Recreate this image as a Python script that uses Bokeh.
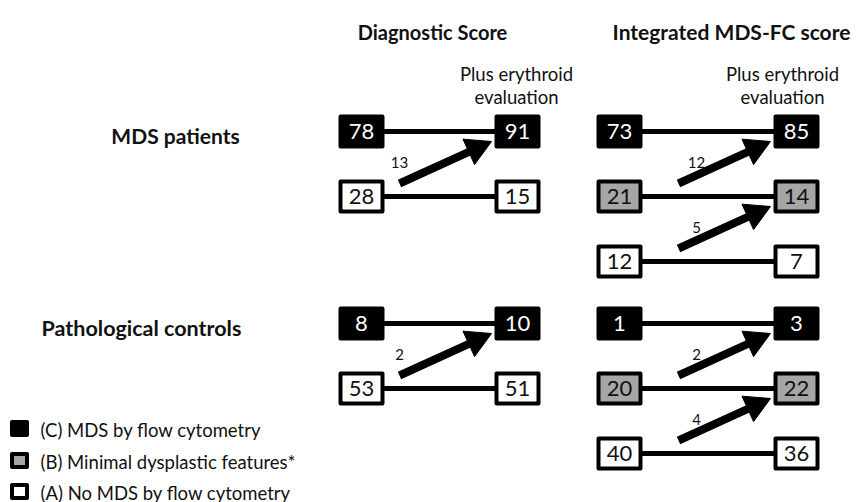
from bokeh.plotting import figure
from bokeh.models import Range1d
from bokeh.core.properties import value
from bokeh.embed import file_html
from bokeh.resources import INLINE

# ---------------- data ----------------
panel_titles = ["Diagnostic Score", "Integrated MDS-FC score"]
subtitle_lines = ["Plus erythroid", "evaluation"]
group_labels = ["MDS patients", "Pathological controls"]
legend_codes = ["C", "B", "A"]
legend_labels = ["(C) MDS by flow cytometry",
                 "(B) Minimal dysplastic features*",
                 "(A) No MDS by flow cytometry"]

diag_cats = ["C", "A"]
int_cats = ["C", "B", "A"]

diag_mds_before = [78, 28]
diag_mds_after = [91, 15]
diag_mds_moved = [13]

int_mds_before = [73, 21, 12]
int_mds_after = [85, 14, 7]
int_mds_moved = [12, 5]

diag_ctrl_before = [8, 53]
diag_ctrl_after = [10, 51]
diag_ctrl_moved = [2]

int_ctrl_before = [1, 20, 40]
int_ctrl_after = [3, 22, 36]
int_ctrl_moved = [2, 4]

# ---------------- layout / style ----------------
W, H = 856, 502
FONT = "Lato"
fill_of = {"C": "#000000", "B": "#a6a6a6", "A": "#ffffff"}
txt_of = {"C": "#ffffff", "B": "#111111", "A": "#111111"}

panel_left_x = [361, 619]
panel_right_x = [517, 796]
panel_title_x = [432, 731]
title_size = ["20px", "21px"]
subtitle_x = [516, 782]
label_dx = [0, 18]
group_top_y = [131, 323]
group_label_x = [175, 141]
group_size = ["21px", "21.5px"]
row_gap = 65
box_w, box_h = 42, 30

p = figure(width=W, height=H, output_backend="svg", toolbar_location=None,
           x_range=Range1d(0, W), y_range=Range1d(H, 0),
           min_border=0, outline_line_color=None)
p.axis.visible = False
p.grid.visible = False

# titles
for i, t in enumerate(panel_titles):
    p.text(x=[panel_title_x[i]], y=[31], text=[t], text_font=value(FONT),
           text_font_style="bold", text_font_size=title_size[i], text_align="center",
           text_baseline="middle", text_color="#111111")
    for k, line in enumerate(subtitle_lines):
        p.text(x=[subtitle_x[i]], y=[73 + 23 * k], text=[line], text_font=value(FONT),
               text_font_size="18.5px", text_align="center", text_baseline="middle",
               text_color="#111111")

for g, lab in enumerate(group_labels):
    p.text(x=[group_label_x[g]], y=[group_top_y[g] + 4], text=[lab], text_font=value(FONT),
           text_font_style="bold", text_font_size=group_size[g], text_align="center",
           text_baseline="middle", text_color="#111111")

datasets = [
    (0, 0, diag_cats, diag_mds_before, diag_mds_after, diag_mds_moved),
    (1, 0, int_cats, int_mds_before, int_mds_after, int_mds_moved),
    (0, 1, diag_cats, diag_ctrl_before, diag_ctrl_after, diag_ctrl_moved),
    (1, 1, int_cats, int_ctrl_before, int_ctrl_after, int_ctrl_moved),
]

bx, by, bf, bt, bc = [], [], [], [], []
lx0, lx1, ly = [], [], []
ax0, ay0, ax1, ay1 = [], [], [], []
hx, hy = [], []
mx, my, mt = [], [], []
for panel, grp, cats, before, after, moved in datasets:
    lx, rx = panel_left_x[panel], panel_right_x[panel]
    ys = [group_top_y[grp] + r * row_gap for r in range(len(cats))]
    for r, c in enumerate(cats):
        for xx, v in ((lx, before[r]), (rx, after[r])):
            bx.append(xx); by.append(ys[r]); bf.append(fill_of[c]); bt.append(str(v)); bc.append(txt_of[c])
        lx0.append(lx + box_w / 2); lx1.append(rx - box_w / 2); ly.append(ys[r])
    for r, m in enumerate(moved):
        ex, ey = rx - 26, ys[r] + 10
        tx, ty = ex - 92, ey + 42
        dx, dy = ex - tx, ey - ty
        L = (dx * dx + dy * dy) ** 0.5
        ux, uy = dx / L, dy / L
        hl, hw = 25, 14
        bxp, byp = ex - ux * hl, ey - uy * hl
        ax0.append(tx); ay0.append(ty); ax1.append(bxp + ux * 2); ay1.append(byp + uy * 2)
        hx.append([ex, bxp - uy * hw, bxp + uy * hw])
        hy.append([ey, byp + ux * hw, byp - ux * hw])
        mx.append(tx + label_dx[panel]); my.append(ty - 21); mt.append(str(m))

p.segment(x0=lx0, y0=ly, x1=lx1, y1=ly, line_color="black", line_width=5)
p.segment(x0=ax0, y0=ay0, x1=ax1, y1=ay1, line_color="black", line_width=8)
p.patches(xs=hx, ys=hy, fill_color="black", line_color="black", line_width=1)
p.text(x=mx, y=my, text=mt, text_font=value(FONT), text_font_size="15px",
       text_align="center", text_baseline="middle", text_color="#111111")

p.rect(x=bx, y=by, width=box_w, height=box_h, fill_color=bf, line_color="black",
       line_width=4, line_join="round")
p.text(x=bx, y=by, text=bt, text_font=value(FONT), text_font_size="22px",
       text_align="center", text_baseline="middle", text_color=bc)

# legend
leg_y = [428, 460, 491]
p.rect(x=[19] * 3, y=leg_y, width=15, height=13,
       fill_color=[fill_of[c] for c in legend_codes], line_color="black",
       line_width=4, line_join="round")
p.text(x=[40] * 3, y=[v + 1 for v in leg_y], text=legend_labels, text_font=value(FONT),
       text_font_size="18.5px", text_align="left", text_baseline="middle",
       text_color="#111111")

open("out.html", "w").write(file_html(p, INLINE))
